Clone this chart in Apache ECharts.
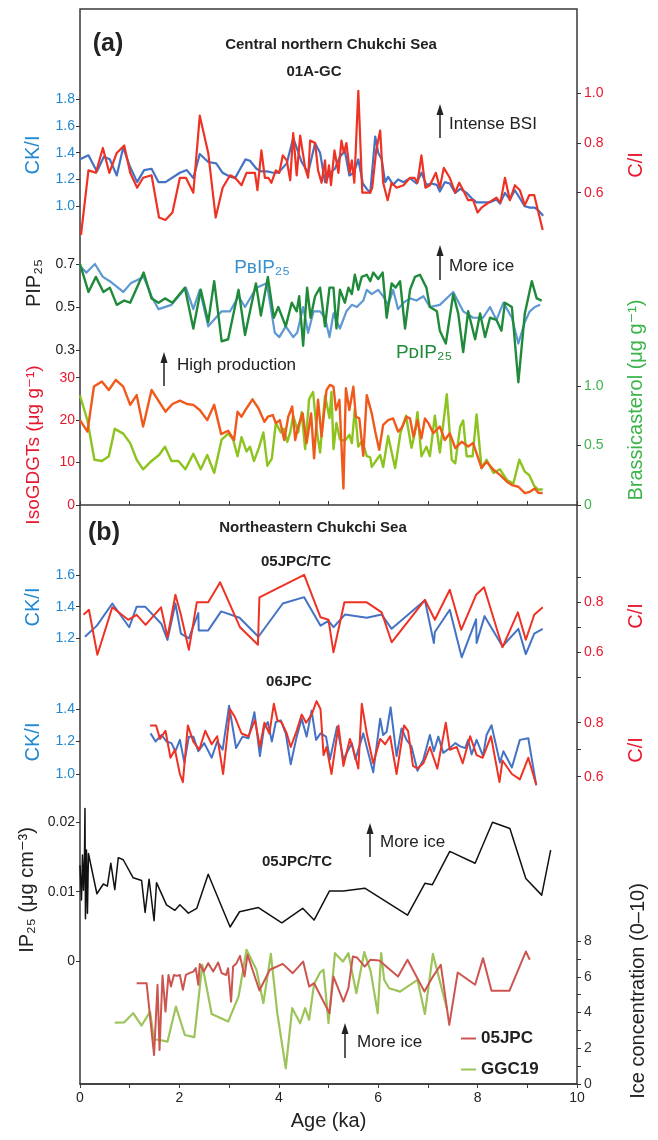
<!DOCTYPE html>
<html>
<head>
<meta charset="utf-8">
<script src="https://cdn.jsdelivr.net/npm/echarts@6/dist/echarts.min.js"></script>
<style>
  html, body { margin: 0; padding: 0; background: #fff; }
  #chart { width: 658px; height: 1140px; }
</style>
</head>
<body>
<div id="chart"></div>
<script>
// --- data: [age (ka), value] ---
var ckiA = [[0,1.35],[0.17,1.38],[0.34,1.26],[0.48,1.37],[0.60,1.35],[0.74,1.23],[0.87,1.44],[1.0,1.30],[1.15,1.18],[1.29,1.27],[1.44,1.28],[1.58,1.18],[1.72,1.18],[2.01,1.25],[2.15,1.27],[2.28,1.21],[2.41,1.39],[2.58,1.33],[2.74,1.32],[2.87,1.25],[3.02,1.22],[3.12,1.21],[3.21,1.27],[3.25,1.27],[3.33,1.35],[3.42,1.34],[3.55,1.28],[3.65,1.26],[3.76,1.26],[3.89,1.25],[3.99,1.25],[4.16,1.32],[4.29,1.51],[4.46,1.33],[4.59,1.25],[4.73,1.47],[4.83,1.40],[4.93,1.18],[5.03,1.25],[5.13,1.28],[5.23,1.37],[5.33,1.41],[5.42,1.23],[5.51,1.25],[5.60,1.35],[5.69,1.17],[5.77,1.13],[5.84,1.10],[5.94,1.52],[6.0,1.40],[6.07,1.35],[6.14,1.18],[6.2,1.22],[6.30,1.16],[6.40,1.20],[6.51,1.18],[6.64,1.21],[6.77,1.17],[6.87,1.25],[6.97,1.16],[7.07,1.17],[7.18,1.16],[7.24,1.11],[7.34,1.18],[7.44,1.17],[7.55,1.10],[7.65,1.13],[7.78,1.10],[7.88,1.06],[7.98,1.03],[8.11,1.03],[8.25,1.03],[8.38,1.05],[8.45,1.02],[8.55,1.10],[8.65,1.05],[8.75,1.12],[8.85,1.06],[8.95,1.00],[9.05,0.99],[9.15,0.99],[9.22,0.97],[9.32,0.93]];
var ciA = [[0.02,0.43],[0.17,0.69],[0.32,0.68],[0.46,0.78],[0.59,0.68],[0.74,0.76],[0.89,0.79],[1.01,0.68],[1.15,0.62],[1.27,0.66],[1.44,0.67],[1.59,0.50],[1.72,0.49],[1.86,0.52],[2.01,0.66],[2.13,0.66],[2.28,0.60],[2.41,0.91],[2.58,0.76],[2.73,0.50],[2.87,0.62],[3.02,0.67],[3.12,0.66],[3.25,0.63],[3.35,0.68],[3.45,0.68],[3.52,0.68],[3.57,0.61],[3.65,0.77],[3.72,0.66],[3.79,0.66],[3.85,0.64],[3.94,0.69],[4.01,0.68],[4.08,0.75],[4.16,0.73],[4.23,0.65],[4.29,0.84],[4.36,0.67],[4.43,0.83],[4.53,0.70],[4.59,0.66],[4.63,0.81],[4.73,0.80],[4.79,0.69],[4.86,0.64],[4.93,0.73],[4.96,0.64],[5.01,0.71],[5.05,0.63],[5.12,0.77],[5.20,0.68],[5.26,0.81],[5.31,0.76],[5.36,0.80],[5.43,0.68],[5.47,0.73],[5.52,0.64],[5.60,1.01],[5.68,0.60],[5.77,0.60],[5.84,0.60],[5.88,0.62],[5.96,0.77],[6.04,0.85],[6.10,0.64],[6.19,0.57],[6.27,0.64],[6.37,0.62],[6.51,0.63],[6.64,0.66],[6.73,0.66],[6.79,0.64],[6.87,0.75],[6.95,0.62],[7.04,0.63],[7.16,0.68],[7.24,0.62],[7.32,0.70],[7.44,0.66],[7.55,0.60],[7.63,0.64],[7.71,0.61],[7.81,0.57],[7.91,0.57],[8.00,0.52],[8.08,0.54],[8.22,0.56],[8.38,0.58],[8.46,0.56],[8.55,0.66],[8.65,0.57],[8.75,0.63],[8.85,0.61],[8.95,0.55],[9.04,0.59],[9.14,0.59],[9.31,0.45]];
var pbip = [[0,0.69],[0.13,0.66],[0.30,0.70],[0.46,0.64],[0.60,0.62],[0.87,0.57],[1.02,0.61],[1.28,0.64],[1.44,0.55],[1.58,0.49],[1.84,0.51],[2.13,0.59],[2.28,0.49],[2.41,0.58],[2.58,0.41],[2.85,0.48],[3.02,0.48],[3.19,0.55],[3.32,0.50],[3.55,0.59],[3.76,0.61],[3.92,0.38],[4.01,0.36],[4.14,0.41],[4.29,0.36],[4.37,0.38],[4.49,0.50],[4.59,0.38],[4.70,0.48],[4.83,0.48],[4.93,0.45],[5.02,0.36],[5.10,0.47],[5.23,0.40],[5.36,0.48],[5.47,0.51],[5.57,0.50],[5.70,0.53],[5.77,0.58],[5.87,0.56],[6.0,0.58],[6.10,0.55],[6.20,0.51],[6.30,0.58],[6.40,0.49],[6.51,0.52],[6.64,0.54],[6.77,0.53],[6.91,0.55],[7.04,0.50],[7.24,0.51],[7.51,0.57],[7.71,0.48],[7.91,0.45],[8.11,0.45],[8.25,0.50],[8.38,0.44],[8.52,0.52],[8.69,0.45],[8.82,0.33],[8.95,0.43],[9.05,0.48],[9.15,0.50],[9.26,0.51]];
var pdip = [[0,0.70],[0.17,0.57],[0.32,0.64],[0.47,0.57],[0.60,0.59],[0.74,0.51],[0.89,0.53],[1.01,0.52],[1.28,0.66],[1.44,0.54],[1.58,0.52],[1.71,0.54],[1.86,0.52],[2.11,0.59],[2.28,0.40],[2.43,0.58],[2.58,0.43],[2.70,0.62],[2.85,0.34],[2.98,0.35],[3.19,0.58],[3.32,0.37],[3.54,0.61],[3.64,0.46],[3.78,0.64],[3.90,0.45],[3.99,0.50],[4.14,0.41],[4.26,0.52],[4.36,0.48],[4.41,0.55],[4.49,0.32],[4.57,0.59],[4.64,0.45],[4.73,0.55],[4.83,0.59],[4.93,0.41],[5.02,0.59],[5.10,0.59],[5.16,0.40],[5.23,0.58],[5.33,0.52],[5.40,0.59],[5.47,0.56],[5.53,0.65],[5.60,0.58],[5.67,0.64],[5.77,0.65],[5.84,0.62],[5.90,0.66],[6.0,0.63],[6.09,0.66],[6.17,0.45],[6.27,0.61],[6.35,0.59],[6.44,0.62],[6.54,0.40],[6.64,0.58],[6.74,0.64],[6.84,0.65],[6.97,0.59],[7.04,0.50],[7.18,0.48],[7.24,0.39],[7.36,0.33],[7.51,0.56],[7.61,0.47],[7.71,0.29],[7.81,0.48],[7.95,0.35],[8.05,0.47],[8.15,0.36],[8.25,0.45],[8.38,0.44],[8.48,0.39],[8.55,0.52],[8.69,0.50],[8.82,0.15],[8.95,0.47],[9.09,0.62],[9.19,0.54],[9.29,0.53]];
var isoGdgt = [[0,20.0],[0.15,17.3],[0.28,27.9],[0.44,29.1],[0.58,27.1],[0.72,29.5],[0.87,27.9],[1.01,23.6],[1.14,25.9],[1.27,18.5],[1.44,27.1],[1.72,22.0],[1.86,23.8],[2.01,24.6],[2.15,23.8],[2.28,23.6],[2.41,22.4],[2.56,20.0],[2.70,23.6],[2.84,16.7],[2.98,17.5],[3.10,15.3],[3.17,22.0],[3.25,20.8],[3.33,22.4],[3.47,24.9],[3.59,22.8],[3.71,19.6],[3.78,20.8],[3.88,21.2],[3.94,19.3],[4.02,20.0],[4.11,15.3],[4.19,20.8],[4.27,23.2],[4.33,15.3],[4.39,18.5],[4.48,21.6],[4.56,14.6],[4.65,21.6],[4.71,11.0],[4.79,24.8],[4.86,16.1],[4.96,27.1],[5.03,28.3],[5.10,27.9],[5.15,22.4],[5.22,24.8],[5.30,3.9],[5.35,27.5],[5.42,22.4],[5.50,27.9],[5.55,20.8],[5.62,20.4],[5.70,11.6],[5.77,25.9],[5.87,21.6],[5.94,17.3],[6.02,13.0],[6.10,18.9],[6.20,20.0],[6.30,20.4],[6.40,17.3],[6.47,18.1],[6.57,20.8],[6.64,20.4],[6.71,16.1],[6.79,20.0],[6.87,15.7],[6.94,20.4],[7.01,19.3],[7.11,16.9],[7.24,18.5],[7.34,15.3],[7.44,16.9],[7.55,13.4],[7.68,14.9],[7.81,13.8],[7.91,14.6],[8.08,8.7],[8.18,10.2],[8.32,8.3],[8.45,7.1],[8.59,5.5],[8.69,4.7],[8.82,4.3],[8.95,2.8],[9.05,3.1],[9.15,3.9],[9.22,2.9],[9.31,2.8]];
var brassica = [[0,0.92],[0.15,0.71],[0.29,0.38],[0.44,0.37],[0.58,0.41],[0.70,0.64],[0.87,0.60],[1.01,0.52],[1.14,0.38],[1.27,0.30],[1.44,0.37],[1.59,0.42],[1.71,0.49],[1.84,0.37],[1.98,0.37],[2.12,0.30],[2.28,0.43],[2.43,0.30],[2.56,0.42],[2.70,0.27],[2.85,0.55],[2.98,0.60],[3.08,0.55],[3.17,0.41],[3.25,0.57],[3.35,0.45],[3.42,0.49],[3.50,0.37],[3.60,0.48],[3.69,0.61],[3.77,0.33],[3.86,0.39],[3.94,0.69],[4.04,0.61],[4.10,0.64],[4.17,0.53],[4.23,0.61],[4.29,0.75],[4.39,0.61],[4.46,0.78],[4.53,0.47],[4.61,0.89],[4.69,0.95],[4.76,0.64],[4.83,0.44],[4.93,0.92],[5.02,0.73],[5.06,0.95],[5.10,0.47],[5.16,0.69],[5.23,0.55],[5.33,0.54],[5.42,0.59],[5.47,0.52],[5.53,0.81],[5.60,0.49],[5.68,0.54],[5.77,0.41],[5.84,0.40],[5.87,0.32],[5.97,0.38],[6.04,0.42],[6.10,0.32],[6.20,0.58],[6.34,0.31],[6.45,0.61],[6.56,0.75],[6.67,0.48],[6.74,0.61],[6.79,0.78],[6.87,0.41],[6.97,0.49],[7.04,0.41],[7.14,0.75],[7.24,0.44],[7.38,0.93],[7.48,0.38],[7.55,0.35],[7.65,0.66],[7.71,0.71],[7.78,0.41],[7.90,0.41],[7.98,0.76],[8.08,0.31],[8.18,0.38],[8.32,0.27],[8.45,0.30],[8.59,0.21],[8.72,0.18],[8.84,0.38],[8.95,0.28],[9.04,0.25],[9.14,0.16],[9.22,0.13],[9.31,0.13]];
var cki05 = [[0.10,1.21],[0.34,1.28],[0.65,1.42],[0.99,1.27],[1.14,1.40],[1.31,1.40],[1.64,1.29],[1.76,1.19],[1.92,1.42],[2.03,1.23],[2.19,1.20],[2.38,1.36],[2.39,1.25],[2.58,1.25],[2.84,1.37],[3.21,1.33],[3.59,1.21],[4.08,1.42],[4.51,1.46],[4.84,1.28],[5.00,1.31],[5.10,1.27],[5.33,1.35],[5.77,1.33],[6.07,1.35],[6.27,1.26],[6.94,1.44],[7.12,1.17],[7.14,1.24],[7.44,1.38],[7.68,1.08],[7.97,1.32],[7.98,1.17],[8.14,1.34],[8.50,1.15],[8.82,1.26],[8.97,1.10],[9.14,1.23],[9.31,1.26]];
var ci05 = [[0.07,0.75],[0.18,0.77],[0.35,0.59],[0.65,0.78],[0.97,0.73],[1.14,0.75],[1.32,0.71],[1.63,0.78],[1.76,0.66],[1.92,0.83],[2.03,0.75],[2.19,0.61],[2.35,0.80],[2.58,0.80],[2.82,0.88],[3.22,0.70],[3.58,0.63],[3.61,0.82],[4.51,0.91],[4.84,0.74],[5.00,0.73],[5.10,0.60],[5.32,0.80],[5.77,0.80],[6.07,0.76],[6.27,0.64],[6.94,0.81],[7.14,0.73],[7.44,0.85],[7.67,0.69],[7.97,0.83],[8.13,0.86],[8.50,0.62],[8.81,0.76],[8.97,0.65],[9.14,0.75],[9.31,0.78]];
var cki06 = [[1.42,1.25],[1.52,1.20],[1.64,1.24],[1.74,1.20],[1.84,1.19],[1.92,1.14],[2.01,1.21],[2.10,1.07],[2.19,1.23],[2.28,1.23],[2.38,1.14],[2.50,1.19],[2.65,1.10],[2.76,1.20],[2.87,1.15],[3.00,1.42],[3.14,1.16],[3.27,1.23],[3.39,1.22],[3.51,1.38],[3.62,1.11],[3.70,1.28],[3.78,1.32],[3.86,1.20],[3.94,1.32],[4.04,1.33],[4.14,1.25],[4.24,1.06],[4.36,1.23],[4.46,1.34],[4.56,1.23],[4.66,1.39],[4.75,1.21],[4.84,1.25],[4.95,1.23],[5.03,1.09],[5.17,1.29],[5.30,1.09],[5.47,1.19],[5.54,1.09],[5.70,1.25],[5.90,1.01],[6.04,1.34],[6.10,1.24],[6.17,1.26],[6.25,1.41],[6.37,1.11],[6.47,1.28],[6.57,1.21],[6.67,1.17],[6.79,1.02],[6.91,1.09],[7.04,1.24],[7.12,1.14],[7.21,1.23],[7.31,1.13],[7.44,1.16],[7.55,1.19],[7.65,1.17],[7.75,1.16],[7.81,1.21],[7.88,1.12],[7.98,1.21],[8.11,1.11],[8.18,1.24],[8.28,1.30],[8.45,1.07],[8.52,1.14],[8.69,1.04],[8.85,1.21],[9.02,1.22],[9.18,0.93]];
var ci06 = [[1.41,0.79],[1.53,0.79],[1.61,0.74],[1.72,0.77],[1.82,0.67],[1.91,0.70],[2.01,0.61],[2.07,0.58],[2.11,0.58],[2.17,0.79],[2.28,0.73],[2.40,0.70],[2.52,0.77],[2.65,0.72],[2.76,0.75],[2.88,0.61],[3.02,0.85],[3.12,0.82],[3.25,0.76],[3.39,0.75],[3.52,0.81],[3.62,0.71],[3.71,0.80],[3.81,0.76],[3.90,0.87],[3.97,0.81],[4.06,0.80],[4.16,0.76],[4.24,0.71],[4.36,0.77],[4.46,0.83],[4.55,0.80],[4.66,0.83],[4.76,0.88],[4.84,0.85],[4.90,0.68],[4.96,0.71],[5.03,0.64],[5.06,0.61],[5.20,0.79],[5.30,0.64],[5.43,0.74],[5.50,0.70],[5.60,0.63],[5.67,0.87],[5.77,0.76],[5.90,0.65],[6.04,0.74],[6.14,0.72],[6.24,0.75],[6.37,0.61],[6.52,0.79],[6.60,0.77],[6.70,0.64],[6.79,0.63],[6.91,0.65],[7.04,0.71],[7.19,0.63],[7.36,0.80],[7.44,0.70],[7.58,0.71],[7.70,0.65],[7.85,0.75],[7.98,0.68],[8.10,0.67],[8.27,0.75],[8.44,0.58],[8.50,0.66],[8.69,0.61],[8.85,0.59],[9.02,0.67],[9.18,0.57]];
var ip25 = [[0.0,0.0138],[0.03,0.0088],[0.05,0.0153],[0.07,0.0102],[0.09,0.0150],[0.10,0.0220],[0.11,0.0061],[0.13,0.0160],[0.15,0.0069],[0.17,0.0155],[0.34,0.0097],[0.47,0.0111],[0.55,0.0108],[0.62,0.0141],[0.70,0.0103],[0.77,0.0149],[0.87,0.0146],[1.07,0.0120],[1.24,0.0116],[1.31,0.0070],[1.39,0.0118],[1.49,0.0058],[1.54,0.0113],[1.74,0.0081],[1.91,0.0073],[2.01,0.0081],[2.18,0.0069],[2.35,0.0076],[2.58,0.0125],[3.02,0.0049],[3.21,0.0071],[3.59,0.0077],[4.06,0.0055],[4.48,0.0076],[4.71,0.0059],[5.02,0.0101],[5.30,0.0101],[5.73,0.0105],[6.59,0.0066],[6.94,0.0112],[7.09,0.0110],[7.44,0.0158],[7.95,0.0141],[8.30,0.0200],[8.65,0.0191],[8.97,0.0119],[9.29,0.0095],[9.47,0.0160]];
var ice05 = [[1.14,5.64],[1.34,5.64],[1.49,1.62],[1.56,5.55],[1.60,1.9],[1.66,6.07],[1.72,4.05],[1.78,6.1],[1.83,5.45],[1.89,6.1],[1.95,6.05],[2.01,6.1],[2.07,5.27],[2.13,6.1],[2.20,6.2],[2.28,6.29],[2.33,6.48],[2.38,5.55],[2.41,6.72],[2.49,6.29],[2.58,6.76],[2.68,6.29],[2.78,6.8],[2.85,6.2],[2.94,6.1],[2.98,6.48],[3.04,4.61],[3.08,6.57],[3.15,6.76],[3.22,7.17],[3.31,6.01],[3.37,7.23],[3.61,5.23],[3.82,6.39],[4.08,6.72],[4.28,6.2],[4.49,6.85],[4.61,5.45],[4.71,5.64],[5.02,3.96],[5.10,6.01],[5.30,4.61],[5.40,5.36],[5.49,7.13],[5.57,7.08],[5.73,6.57],[5.84,6.95],[6.02,6.91],[6.40,6.01],[6.59,6.95],[6.93,5.17],[7.10,6.01],[7.26,6.67],[7.43,3.31],[7.60,6.24],[7.95,5.55],[8.11,7.04],[8.28,5.21],[8.64,5.21],[8.97,7.41],[9.05,6.95]];
var iceGgc19 = [[0.70,3.43],[0.89,3.45],[1.07,3.96],[1.24,3.27],[1.41,4.05],[1.49,2.5],[1.61,2.46],[1.76,2.37],[1.93,4.33],[2.11,2.74],[2.30,2.62],[2.46,6.67],[2.65,3.92],[2.98,3.49],[3.19,4.89],[3.35,7.51],[3.55,6.39],[3.69,4.52],[3.84,7.28],[3.97,3.96],[4.14,0.88],[4.27,4.24],[4.43,3.4],[4.53,4.24],[4.61,3.59],[4.71,5.6],[4.83,6.24],[4.90,6.39],[5.00,3.4],[5.13,7.32],[5.29,6.85],[5.40,7.32],[5.56,5.08],[5.72,7.38],[5.85,6.29],[5.99,3.96],[6.06,7.32],[6.12,5.83],[6.22,5.36],[6.44,5.17],[6.79,5.83],[6.94,3.92],[7.10,7.28],[7.38,4.24]];

var ageTicks = [0, 2, 4, 6, 8, 10];

var font = '"Liberation Sans", Arial, "DejaVu Sans", sans-serif';
var blue = '#4472c4', blueTxt = '#2188d3';
var red = '#ee3224', redTxt = '#e8182e';
var lightBlue = '#5e98d3', darkGreen = '#1f8b3a';
var orange = '#ef5a1c', yellowGreen = '#8cc31f', greenTxt = '#3cb44b';
var ice05Color = '#cc5550', ggcColor = '#9dc45b';

var grids = [], xAxes = [], yAxes = [], series = [];

// one grid per y scale, all sharing the 0-10 ka x range
function scale(top, height, side, min, max, interval, color, shown) {
  var n = grids.length;
  grids.push({ left: 80, right: 81, top: top, height: height });
  xAxes.push({ type: 'value', gridIndex: n, min: 0, max: 10, show: false });
  yAxes.push({
    type: 'value', gridIndex: n, position: side, min: min, max: max, interval: interval,
    axisLine: { show: false, onZero: false },
    splitLine: { show: false },
    axisTick: { show: true, inside: false, length: 4, lineStyle: { color: '#333', width: 1 } },
    axisLabel: {
      color: color, fontSize: 14, fontFamily: font, margin: side === 'left' ? 5 : 7,
      formatter: function(v) {
        for (var i = 0; i < shown.length; i++) {
          if (Math.abs(v - shown[i]) < 1e-6) return shown[i] === 0 ? '0' : (interval < 0.05 ? v.toFixed(2) : (interval < 1 ? v.toFixed(1) : String(Math.round(v))));
        }
        return '';
      }
    }
  });
  return n;
}

function line(name, data, gi, color, width) {
  series.push({
    type: 'line', name: name, xAxisIndex: gi, yAxisIndex: gi, data: data,
    symbol: 'none', showSymbol: false, clip: false, silent: true,
    lineStyle: { color: color, width: width, join: 'round' }, itemStyle: { color: color }
  });
}

// --- frame and the two age axes ---
grids.push({ left: 80, right: 81, top: 9, bottom: 56, show: true, borderColor: '#3a3a3a', borderWidth: 1.5, backgroundColor: 'transparent' });
xAxes.push({
  type: 'value', gridIndex: 0, min: 0, max: 10, interval: 1,
  name: 'Age (ka)', nameLocation: 'middle', nameGap: 27,
  nameTextStyle: { fontSize: 20, color: '#222', fontFamily: font },
  axisLine: { onZero: false, lineStyle: { color: '#3a3a3a', width: 1.5 } },
  axisTick: { length: 4, lineStyle: { color: '#3a3a3a' } },
  splitLine: { show: false },
  axisLabel: { fontSize: 14, color: '#222', fontFamily: font, margin: 7,
    formatter: function(v) { return ageTicks.indexOf(v) >= 0 ? String(v) : ''; } }
});
yAxes.push({ type: 'value', gridIndex: 0, show: false });

grids.push({ left: 80, right: 81, top: 9, bottom: 635 });
xAxes.push({
  type: 'value', gridIndex: 1, min: 0, max: 10, interval: 1,
  axisLine: { onZero: false, lineStyle: { color: '#3a3a3a', width: 1.5 } },
  axisTick: { inside: true, length: 4, lineStyle: { color: '#3a3a3a' } },
  axisLabel: { show: false }, splitLine: { show: false }
});
yAxes.push({ type: 'value', gridIndex: 1, show: false });

// --- (a) 01A-GC ---
var gCkiA = scale(99, 107.3, 'left', 1.0, 1.8, 0.2, blueTxt, [1.0, 1.2, 1.4, 1.6, 1.8]);
var gCiA = scale(93.3, 99.4, 'right', 0.6, 1.0, 0.2, redTxt, [0.6, 0.8, 1.0]);
var gPip = scale(264, 86, 'left', 0.3, 0.7, 0.2, '#222', [0.3, 0.5, 0.7]);
var gIso = scale(377.7, 127.3, 'left', 0, 30, 10, redTxt, [0, 10, 20, 30]);
var gBra = scale(386, 119, 'right', 0, 1.0, 0.5, greenTxt, [0, 0.5, 1.0]);

// --- (b) 05JPC/TC, 06JPC, ice ---
var gCki05 = scale(575, 63.3, 'left', 1.2, 1.6, 0.2, blueTxt, [1.2, 1.4, 1.6]);
var gCi05 = scale(577.3, 100, 'right', 0.5, 0.9, 0.1, redTxt, [0.6, 0.8]);
var gCki06 = scale(709, 65, 'left', 1.0, 1.4, 0.2, blueTxt, [1.0, 1.2, 1.4]);
var gCi06 = scale(722.7, 54, 'right', 0.6, 0.8, 0.1, redTxt, [0.6, 0.8]);
var gIp = scale(822.3, 138.7, 'left', 0, 0.02, 0.01, '#222', [0, 0.01, 0.02]);
var gIce = scale(941, 143, 'right', 0, 8, 1, '#333', [0, 2, 4, 6, 8]);

line('CK/I', ckiA, gCkiA, blue, 2.2);
line('C/I', ciA, gCiA, red, 2.2);
line('PBIP25', pbip, gPip, lightBlue, 2.2);
line('PDIP25', pdip, gPip, darkGreen, 2.4);
line('Brassicasterol', brassica, gBra, yellowGreen, 2.4);
line('IsoGDGTs', isoGdgt, gIso, orange, 2.4);
line('CK/I 05', cki05, gCki05, blue, 2);
line('C/I 05', ci05, gCi05, red, 2);
line('CK/I 06', cki06, gCki06, blue, 2);
line('C/I 06', ci06, gCi06, red, 2);
line('IP25', ip25, gIp, '#111', 1.5);
line('GGC19', iceGgc19, gIce, ggcColor, 2.2);
line('05JPC', ice05, gIce, ice05Color, 2);

function txt(s, x, y, color, size, bold, rot) {
  return {
    type: 'text', x: x, y: y, rotation: rot ? Math.PI / 2 : 0, silent: true,
    style: { text: s, fill: color, font: (bold ? 'bold ' : '') + size + 'px ' + font, align: 'center', verticalAlign: 'middle' }
  };
}
function note(s, x, y) {
  return { type: 'text', x: x, y: y, silent: true, style: { text: s, fill: '#222', font: '17px ' + font, align: 'left', verticalAlign: 'middle' } };
}
function arrow(x, yBottom, yTop) {
  return {
    type: 'group', silent: true, children: [
      { type: 'line', shape: { x1: x, y1: yBottom, x2: x, y2: yTop + 6 }, style: { stroke: '#222', lineWidth: 1.5 } },
      { type: 'polygon', shape: { points: [[x, yTop], [x - 3.5, yTop + 11], [x + 3.5, yTop + 11]] }, style: { fill: '#222' } }
    ]
  };
}

var chart = echarts.init(document.getElementById('chart'), null, { renderer: 'canvas' });
chart.setOption({
  animation: false,
  grid: grids,
  xAxis: xAxes,
  yAxis: yAxes,
  series: series,
  legend: {
    data: ['05JPC', 'GGC19'], orient: 'vertical', left: 456, top: 1025,
    icon: 'rect', itemWidth: 15, itemHeight: 2, itemGap: 14,
    textStyle: { fontSize: 17, fontWeight: 'bold', color: '#222', fontFamily: font },
    selectedMode: false
  },
  graphic: [
    txt('(a)', 108, 44, '#222', 25, true),
    txt('Central northern Chukchi Sea', 331, 45, '#222', 15, true),
    txt('01A-GC', 314, 72, '#222', 15, true),
    txt('CK/I', 33, 155, blueTxt, 20, false, true),
    txt('C/I', 636, 165, redTxt, 20, false, true),
    txt('PIP\u2082\u2085', 34, 283, '#222', 20, false, true),
    txt('IsoGDGTs (\u03bcg g\u207b\u00b9)', 34, 445, redTxt, 19, false, true),
    txt('Brassicasterol (\u03bcg g\u207b\u00b9)', 636, 400, greenTxt, 20, false, true),
    txt('P\u0299IP\u2082\u2085', 262, 268, '#3a8fd0', 19),
    txt('P\u1d05IP\u2082\u2085', 424, 353, darkGreen, 19),
    note('Intense BSI', 449, 124),
    arrow(440, 138, 104),
    note('More ice', 449, 266),
    arrow(440, 280, 245),
    note('High production', 177, 365),
    arrow(164, 386, 352),
    txt('(b)', 104, 533, '#222', 25, true),
    txt('Northeastern Chukchi Sea', 313, 528, '#222', 15, true),
    txt('05JPC/TC', 296, 562, '#222', 15, true),
    txt('CK/I', 33, 607, blueTxt, 20, false, true),
    txt('C/I', 636, 616, redTxt, 20, false, true),
    txt('06JPC', 289, 682, '#222', 15, true),
    txt('CK/I', 33, 742, blueTxt, 20, false, true),
    txt('C/I', 636, 750, redTxt, 20, false, true),
    txt('IP\u2082\u2085 (\u03bcg cm\u207b\u00b3)', 27, 890, '#222', 20, false, true),
    txt('05JPC/TC', 297, 862, '#222', 15, true),
    note('More ice', 380, 842),
    arrow(370, 857, 823),
    txt('Ice concentration (0\u201310)', 638, 991, '#222', 20, false, true),
    note('More ice', 357, 1042),
    arrow(345, 1058, 1023)
  ]
});
window.addEventListener('resize', function() { chart.resize(); });
</script>
</body>
</html>
